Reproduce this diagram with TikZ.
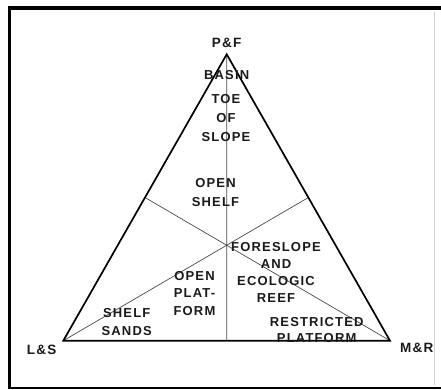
\documentclass[tikz,border=0pt]{standalone}
\usepackage{fontspec}
\usepackage{tikz}
\usetikzlibrary{calc,positioning}
\newfontfamily\faciesfont[LetterSpace=9]{Liberation Sans}
\definecolor{faciesInk}{HTML}{1A1A1A}
\definecolor{faciesLine}{HTML}{4A4A4A}
\definecolor{faciesEdge}{HTML}{CFCFCF}
\tikzset{
  zone/.style={font=\faciesfont\bfseries\fontsize{13}{17.5}\selectfont,
               text=faciesInk,align=center,inner sep=0pt},
  pole/.style={font=\faciesfont\bfseries\fontsize{13.5}{15}\selectfont,
               text=faciesInk,inner sep=0pt},
  side/.style={draw=black,line width=1.7pt,line join=miter},
  median/.style={draw=faciesLine,line width=0.7pt}
}
\begin{document}
\begin{tikzpicture}[x=1pt,y=-1pt]
  \useasboundingbox (0,0) rectangle (441,389);
  % frame
  \draw[black,line width=4pt] (441,8) -- (9,8);
  \draw[black,line width=3pt] (9,6) -- (9,387.5);
  \draw[black,line width=2pt] (8,387.5) -- (441,387.5);
  \draw[faciesEdge,line width=0.8pt] (434,12) -- (434,385);
  % corners of the triangle
  \coordinate (pf) at (226.7,54.3);
  \coordinate (ls) at (63.3,340.7);
  \coordinate (mr) at (390,340.7);
  \coordinate (ctr) at (barycentric cs:pf=1,ls=1,mr=1);
  \coordinate (base mid) at ($(ls)!0.5!(mr)$);
  \coordinate (left mid) at ($(ls)!0.5!(pf)$);
  \coordinate (right mid) at ($(mr)!0.5!(pf)$);
  % medians
  \draw[median] (pf) -- (base mid);
  \draw[median] (left mid) -- (mr);
  \draw[median] (right mid) -- (ls);
  \draw[side] (pf) -- (ls) -- (mr) -- cycle;
  % end members
  \node[pole] (pfL) at (226.7,43) {P\&F};
  \node[pole] (lsL) at (41.7,350) {L\&S};
  \node[pole] (mrL) at (416.7,348) {M\&R};
  % facies belts
  \node[zone] (basin) at (226.7,75) {BASIN};
  \node[zone,font=\faciesfont\bfseries\fontsize{13}{19}\selectfont] (toe) at (226,118) {TOE\\OF\\SLOPE};
  \node[zone,font=\faciesfont\bfseries\fontsize{13}{19}\selectfont] (oshelf) at (215.5,192.5) {OPEN\\SHELF};
  \node[zone,font=\faciesfont\bfseries\fontsize{13}{17}\selectfont] (fore) at (276,272.3) {FORESLOPE\\AND\\ECOLOGIC\\REEF};
  \node[zone] (oplat) at (194.5,293.5) {OPEN\\PLAT-\\FORM};
  \node[zone] (sands) at (126.7,322.2) {SHELF\\SANDS};
  \node[zone,font=\faciesfont\bfseries\fontsize{13}{16}\selectfont] (restr) at (316.7,330.3) {RESTRICTED\\PLATFORM};
\end{tikzpicture}
\end{document}
